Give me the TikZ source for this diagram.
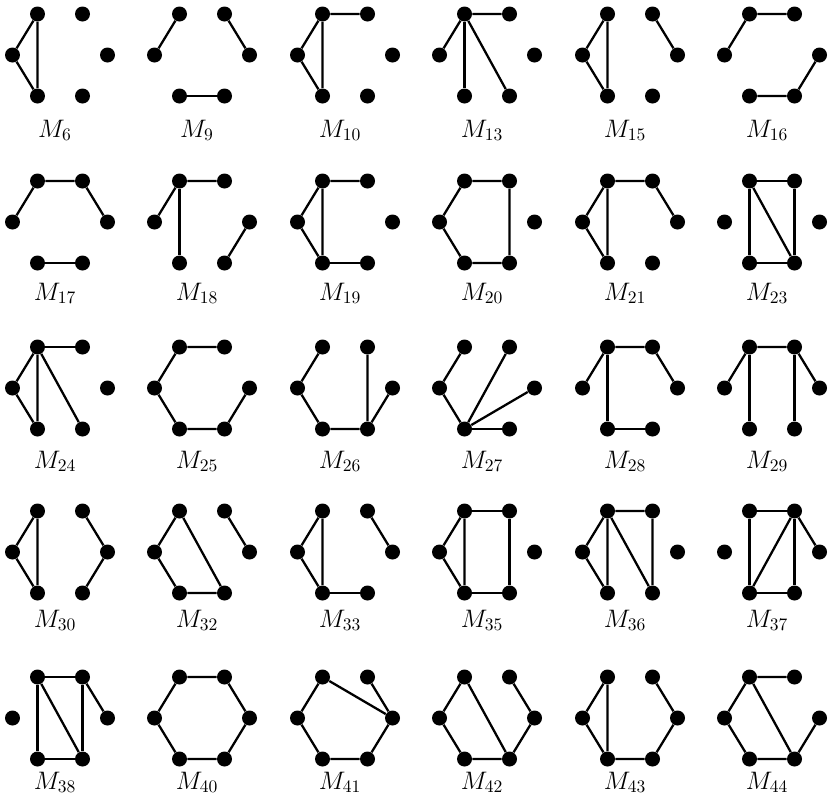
\documentclass[tikz,border=0pt]{standalone}
\usepackage{tikz}
\usetikzlibrary{positioning}
\tikzset{
  vertex/.style={circle, fill=black, inner sep=0pt, minimum size=0.3cm},
  edge/.style={draw=black, line width=1.3pt},
  graphlabel/.style={anchor=base, font=\fontsize{14}{16}\selectfont, inner sep=0pt}
}
% label drop below the middle of a graph, set for each row
\def\labdrop{80}
% six dots of one graph: #1 name, #2 x, #3 y, #4 index
\newcommand{\hexdots}[4]{
  \node[vertex] (#1tl) at (#2-22.5,#3-41) {};
  \node[vertex] (#1tr) at (#2+22.5,#3-41) {};
  \node[vertex] (#1l) at (#2-47.5,#3) {};
  \node[vertex] (#1r) at (#2+47.5,#3) {};
  \node[vertex] (#1bl) at (#2-22.5,#3+41) {};
  \node[vertex] (#1br) at (#2+22.5,#3+41) {};
  \node[graphlabel] (#1lab) at (#2-5,#3+\labdrop) {$M_{#4}$};
}
\begin{document}
\begin{tikzpicture}[x=0.02cm, y=-0.02cm]
  \useasboundingbox (0,0) rectangle (830,809);

  % first row
  \def\labdrop{82}
  \hexdots{m6}{60}{55}{6}
  \hexdots{m9}{202}{55}{9}
  \hexdots{m10}{345}{55}{10}
  \hexdots{m13}{487}{55}{13}
  \hexdots{m15}{630}{55}{15}
  \hexdots{m16}{772}{55}{16}
  \draw[edge] (m6tl) -- (m6l) -- (m6bl) -- (m6tl);
  \draw[edge] (m9tl) -- (m9l);
  \draw[edge] (m9tr) -- (m9r);
  \draw[edge] (m9bl) -- (m9br);
  \draw[edge] (m10tr) -- (m10tl) -- (m10l) -- (m10bl) -- (m10tl);
  \draw[edge] (m13tr) -- (m13tl) -- (m13l);
  \draw[edge] (m13tl) -- (m13bl);
  \draw[edge] (m13tl) -- (m13br);
  \draw[edge] (m15tl) -- (m15l) -- (m15bl) -- (m15tl);
  \draw[edge] (m15tr) -- (m15r);
  \draw[edge] (m16l) -- (m16tl) -- (m16tr);
  \draw[edge] (m16bl) -- (m16br) -- (m16r);

  % second row
  \def\labdrop{78}
  \hexdots{m17}{60}{222}{17}
  \hexdots{m18}{202}{222}{18}
  \hexdots{m19}{345}{222}{19}
  \hexdots{m20}{487}{222}{20}
  \hexdots{m21}{630}{222}{21}
  \hexdots{m23}{772}{222}{23}
  \draw[edge] (m17l) -- (m17tl) -- (m17tr) -- (m17r);
  \draw[edge] (m17bl) -- (m17br);
  \draw[edge] (m18tr) -- (m18tl) -- (m18l);
  \draw[edge] (m18tl) -- (m18bl);
  \draw[edge] (m18r) -- (m18br);
  \draw[edge] (m19tr) -- (m19tl) -- (m19l) -- (m19bl) -- (m19tl);
  \draw[edge] (m19bl) -- (m19br);
  \draw[edge] (m20br) -- (m20tr) -- (m20tl) -- (m20l) -- (m20bl) -- (m20br);
  \draw[edge] (m21tl) -- (m21l) -- (m21bl) -- (m21tl);
  \draw[edge] (m21tl) -- (m21tr) -- (m21r);
  \draw[edge] (m23tl) -- (m23tr) -- (m23br) -- (m23bl) -- (m23tl);
  \draw[edge] (m23tl) -- (m23br);

  % third row
  \def\labdrop{80}
  \hexdots{m24}{60}{388}{24}
  \hexdots{m25}{202}{388}{25}
  \hexdots{m26}{345}{388}{26}
  \hexdots{m27}{487}{388}{27}
  \hexdots{m28}{630}{388}{28}
  \hexdots{m29}{772}{388}{29}
  \draw[edge] (m24tl) -- (m24l) -- (m24bl) -- (m24tl);
  \draw[edge] (m24tl) -- (m24tr);
  \draw[edge] (m24tl) -- (m24br);
  \draw[edge] (m25tr) -- (m25tl) -- (m25l) -- (m25bl) -- (m25br) -- (m25r);
  \draw[edge] (m26tl) -- (m26l) -- (m26bl) -- (m26br) -- (m26tr);
  \draw[edge] (m26br) -- (m26r);
  \draw[edge] (m27tl) -- (m27l) -- (m27bl) -- (m27tr);
  \draw[edge] (m27bl) -- (m27r);
  \draw[edge] (m27bl) -- (m27br);
  \draw[edge] (m28r) -- (m28tr) -- (m28tl) -- (m28l);
  \draw[edge] (m28tl) -- (m28bl) -- (m28br);
  \draw[edge] (m29l) -- (m29tl) -- (m29tr) -- (m29r);
  \draw[edge] (m29tl) -- (m29bl);
  \draw[edge] (m29tr) -- (m29br);

  % fourth row
  \def\labdrop{75}
  \hexdots{m30}{60}{552}{30}
  \hexdots{m32}{202}{552}{32}
  \hexdots{m33}{345}{552}{33}
  \hexdots{m35}{487}{552}{35}
  \hexdots{m36}{630}{552}{36}
  \hexdots{m37}{772}{552}{37}
  \draw[edge] (m30tl) -- (m30l) -- (m30bl) -- (m30tl);
  \draw[edge] (m30tr) -- (m30r) -- (m30br);
  \draw[edge] (m32tl) -- (m32l) -- (m32bl) -- (m32br) -- (m32tl);
  \draw[edge] (m32tr) -- (m32r);
  \draw[edge] (m33tl) -- (m33l) -- (m33bl) -- (m33tl);
  \draw[edge] (m33bl) -- (m33br);
  \draw[edge] (m33tr) -- (m33r);
  \draw[edge] (m35tl) -- (m35l) -- (m35bl) -- (m35tl);
  \draw[edge] (m35tl) -- (m35tr) -- (m35br) -- (m35bl);
  \draw[edge] (m36tl) -- (m36l) -- (m36bl) -- (m36tl);
  \draw[edge] (m36tl) -- (m36tr) -- (m36br) -- (m36tl);
  \draw[edge] (m37tl) -- (m37tr) -- (m37br) -- (m37bl) -- (m37tl);
  \draw[edge] (m37bl) -- (m37tr) -- (m37r);

  % fifth row
  \def\labdrop{71}
  \hexdots{m38}{60}{718}{38}
  \hexdots{m40}{202}{718}{40}
  \hexdots{m41}{345}{718}{41}
  \hexdots{m42}{487}{718}{42}
  \hexdots{m43}{630}{718}{43}
  \hexdots{m44}{772}{718}{44}
  \draw[edge] (m38tl) -- (m38tr) -- (m38br) -- (m38bl) -- (m38tl);
  \draw[edge] (m38tl) -- (m38br);
  \draw[edge] (m38tr) -- (m38r);
  \draw[edge] (m40tl) -- (m40tr) -- (m40r) -- (m40br) -- (m40bl) -- (m40l) -- (m40tl);
  \draw[edge] (m41r) -- (m41tl) -- (m41l) -- (m41bl) -- (m41br) -- (m41r);
  \draw[edge] (m41tr) -- (m41r);
  \draw[edge] (m42br) -- (m42tl) -- (m42l) -- (m42bl) -- (m42br) -- (m42r) -- (m42tr);
  \draw[edge] (m43tl) -- (m43l) -- (m43bl) -- (m43tl);
  \draw[edge] (m43bl) -- (m43br) -- (m43r) -- (m43tr);
  \draw[edge] (m44tr) -- (m44tl) -- (m44l) -- (m44bl) -- (m44br) -- (m44tl);
  \draw[edge] (m44br) -- (m44r);
\end{tikzpicture}
\end{document}
